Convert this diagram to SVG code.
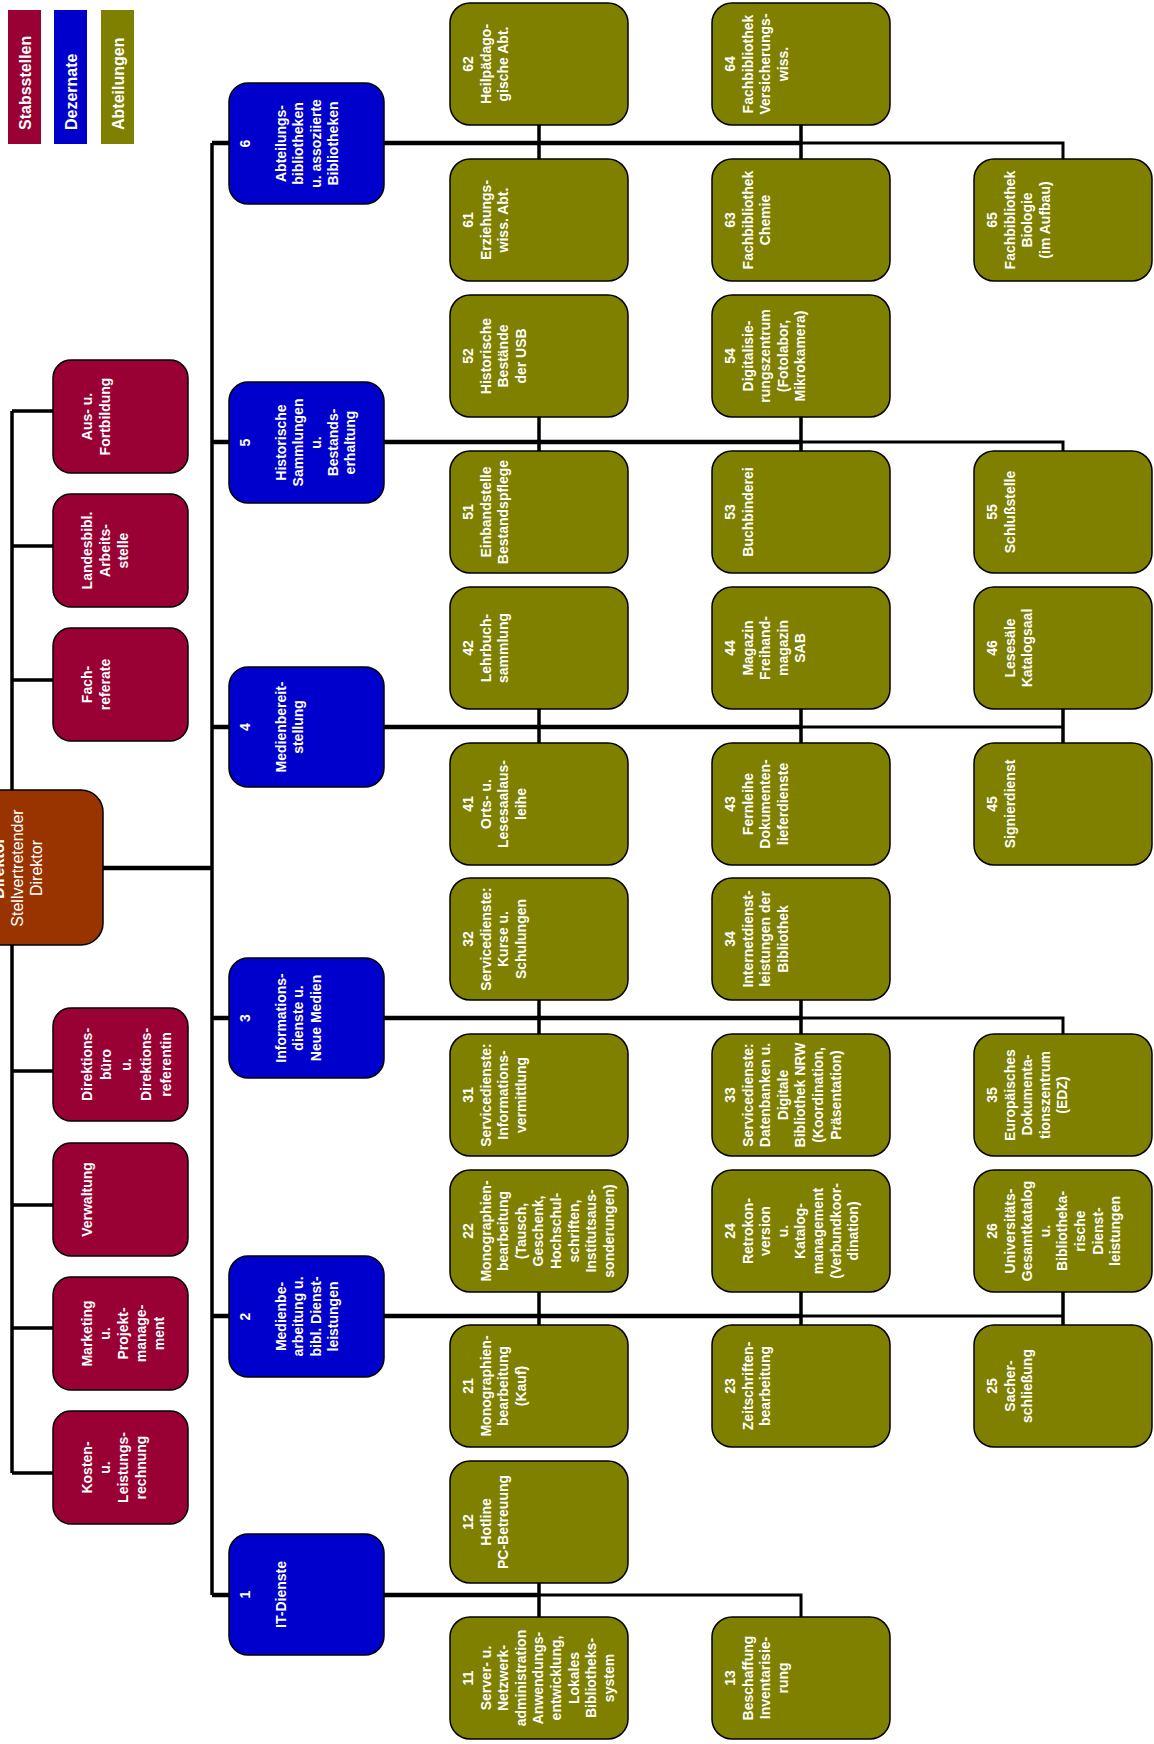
<svg xmlns="http://www.w3.org/2000/svg" width="1154" height="1744" viewBox="0 0 1154 1744">
<style>
.bg{fill:#fff}
.st{fill:#990033;stroke:#000;stroke-width:1.5}
.dz{fill:#0000CC;stroke:#000;stroke-width:1.5}
.ab{fill:#808000;stroke:#000;stroke-width:1.5}
.dr{fill:#993300;stroke:#000;stroke-width:1.5}
.t{font-family:"Liberation Sans",Arial,sans-serif;font-size:14px;font-weight:bold;fill:#fff;text-anchor:middle}
.lg{font-family:"Liberation Sans",Arial,sans-serif;font-size:16px;font-weight:bold;fill:#fff;text-anchor:start}
.dt{font-family:"Liberation Sans",Arial,sans-serif;font-size:16px;fill:#fff;text-anchor:middle}
.c{fill:none;stroke:#000;stroke-width:3.5}
.ct{fill:none;stroke:#000;stroke-width:4.5}
.cn{fill:none;stroke:#000;stroke-width:3}
</style>
<rect class="bg" x="0" y="0" width="1154" height="1744"/>
<g id="legend">
<rect x="8" y="10" width="33" height="134" fill="#990033"/>
<rect x="54" y="10" width="33" height="134" fill="#0000CC"/>
<rect x="101" y="10" width="33" height="134" fill="#808000"/>
<text class="lg" transform="translate(30.5,130) rotate(-90)">Stabsstellen</text>
<text class="lg" transform="translate(76.5,130) rotate(-90)">Dezernate</text>
<text class="lg" transform="translate(123.5,130) rotate(-90)">Abteilungen</text>
</g>
<g id="connectors">
<path class="c" d="M12,411 V1473"/>
<path class="c" d="M12,411 H53 M12,546 H53 M12,680 H53 M12,1071 H53 M12,1205 H53 M12,1328 H53 M12,1473 H53"/>
<path class="ct" d="M100,868 H212"/>
<path class="c" d="M212,143 V1595"/>
<path class="ct" d="M212,143 H801"/><path class="cn" d="M801,143 H1063 V159"/>
<path class="c" d="M539,125 V159 M801,125 V159"/>
<path class="ct" d="M212,442 H801"/><path class="cn" d="M801,442 H1063 V451"/>
<path class="c" d="M539,417 V451 M801,417 V451"/>
<path class="ct" d="M212,727 H801"/><path class="cn" d="M801,727 H1063"/>
<path class="c" d="M539,709 V743 M801,709 V743 M1063,709 V743"/>
<path class="ct" d="M212,1018 H801"/><path class="cn" d="M801,1018 H1063 V1034"/>
<path class="c" d="M539,1000 V1034 M801,1000 V1034"/>
<path class="ct" d="M212,1316 H801"/><path class="cn" d="M801,1316 H1063"/>
<path class="c" d="M539,1292 V1325 M801,1292 V1325 M1063,1292 V1325"/>
<path class="ct" d="M212,1595 H539"/><path class="cn" d="M539,1595 H801 V1617"/>
<path class="c" d="M539,1583 V1617"/>
</g>
<g id="director">
<rect class="dr" x="-40" y="790" width="143" height="155" rx="22"/>
<text class="dt" transform="translate(4,868) rotate(-90)"><tspan x="0" y="0" font-weight="bold">Direktor</tspan><tspan x="0" dy="19">Stellvertretender</tspan><tspan x="0" dy="19">Direktor</tspan></text>
</g>
<g id="s-aus"><rect class="st" x="53" y="360" width="135" height="113" rx="18"/>
<text class="t" transform="translate(92,416.5) rotate(-90)"><tspan x="0" y="0">Aus- u.</tspan><tspan x="0" dy="18">Fortbildung</tspan></text></g>
<g id="s-landes"><rect class="st" x="53" y="494" width="135" height="113" rx="18"/>
<text class="t" transform="translate(92,550.5) rotate(-90)"><tspan x="0" y="0">Landesbibl.</tspan><tspan x="0" dy="18">Arbeits-</tspan><tspan x="0" dy="18">stelle</tspan></text></g>
<g id="s-fach"><rect class="st" x="53" y="628" width="135" height="113" rx="18"/>
<text class="t" transform="translate(92,684.5) rotate(-90)"><tspan x="0" y="0">Fach-</tspan><tspan x="0" dy="18">referate</tspan></text></g>
<g id="s-direktion"><rect class="st" x="53" y="1008" width="135" height="113" rx="18"/>
<text class="t" transform="translate(92,1064.5) rotate(-90)"><tspan x="0" y="0">Direktions-</tspan><tspan x="0" dy="19">büro</tspan><tspan x="0" dy="20">u.</tspan><tspan x="0" dy="20">Direktions-</tspan><tspan x="0" dy="20">referentin</tspan></text></g>
<g id="s-verwaltung"><rect class="st" x="53" y="1143" width="135" height="113" rx="18"/>
<text class="t" transform="translate(92,1199.5) rotate(-90)"><tspan x="0" y="0">Verwaltung</tspan></text></g>
<g id="s-marketing"><rect class="st" x="53" y="1277" width="135" height="113" rx="18"/>
<text class="t" transform="translate(92,1333.5) rotate(-90)"><tspan x="0" y="0">Marketing</tspan><tspan x="0" dy="18">u.</tspan><tspan x="0" dy="18">Projekt-</tspan><tspan x="0" dy="18">manage-</tspan><tspan x="0" dy="18">ment</tspan></text></g>
<g id="s-kosten"><rect class="st" x="53" y="1411" width="135" height="113" rx="18"/>
<text class="t" transform="translate(92,1467.5) rotate(-90)"><tspan x="0" y="0">Kosten-</tspan><tspan x="0" dy="18">u.</tspan><tspan x="0" dy="18">Leistungs-</tspan><tspan x="0" dy="18">rechnung</tspan></text></g>
<g id="d6"><rect class="dz" x="229" y="83" width="155" height="121" rx="19"/>
<text class="t" transform="translate(250,143.5) rotate(-90)"><tspan x="0" y="0">6</tspan><tspan x="0" dy="36">Abteilungs-</tspan><tspan x="0" dy="17.3">bibliotheken</tspan><tspan x="0" dy="17.3">u. assoziierte</tspan><tspan x="0" dy="17.3">Bibliotheken</tspan></text></g>
<g id="d5"><rect class="dz" x="229" y="382" width="155" height="121" rx="19"/>
<text class="t" transform="translate(250,442.5) rotate(-90)"><tspan x="0" y="0">5</tspan><tspan x="0" dy="36">Historische</tspan><tspan x="0" dy="17.3">Sammlungen</tspan><tspan x="0" dy="17.3">u.</tspan><tspan x="0" dy="17.3">Bestands-</tspan><tspan x="0" dy="17.3">erhaltung</tspan></text></g>
<g id="d4"><rect class="dz" x="229" y="667" width="155" height="120" rx="19"/>
<text class="t" transform="translate(250,727) rotate(-90)"><tspan x="0" y="0">4</tspan><tspan x="0" dy="36">Medienbereit-</tspan><tspan x="0" dy="17.3">stellung</tspan></text></g>
<g id="d3"><rect class="dz" x="229" y="958" width="155" height="120" rx="19"/>
<text class="t" transform="translate(250,1018) rotate(-90)"><tspan x="0" y="0">3</tspan><tspan x="0" dy="36">Informations-</tspan><tspan x="0" dy="17.3">dienste u.</tspan><tspan x="0" dy="17.3">Neue Medien</tspan></text></g>
<g id="d2"><rect class="dz" x="229" y="1256" width="155" height="121" rx="19"/>
<text class="t" transform="translate(250,1316.5) rotate(-90)"><tspan x="0" y="0">2</tspan><tspan x="0" dy="36">Medienbe-</tspan><tspan x="0" dy="17.3">arbeitung u.</tspan><tspan x="0" dy="17.3">bibl. Dienst-</tspan><tspan x="0" dy="17.3">leistungen</tspan></text></g>
<g id="d1"><rect class="dz" x="229" y="1534" width="155" height="121" rx="19"/>
<text class="t" transform="translate(250,1594.5) rotate(-90)"><tspan x="0" y="0">1</tspan><tspan x="0" dy="36">IT-Dienste</tspan></text></g>
<g id="a62"><rect class="ab" x="450" y="3" width="178" height="122" rx="20"/>
<text class="t" transform="translate(473,64) rotate(-90)"><tspan x="0" y="0">62</tspan><tspan x="0" dy="17.6">Heilpädago-</tspan><tspan x="0" dy="17.6">gische Abt.</tspan></text></g>
<g id="a64"><rect class="ab" x="712" y="3" width="178" height="122" rx="20"/>
<text class="t" transform="translate(735,64) rotate(-90)"><tspan x="0" y="0">64</tspan><tspan x="0" dy="17.6">Fachbibliothek</tspan><tspan x="0" dy="17.6">Versicherungs-</tspan><tspan x="0" dy="17.6">wiss.</tspan></text></g>
<g id="a61"><rect class="ab" x="450" y="159" width="178" height="122" rx="20"/>
<text class="t" transform="translate(473,220) rotate(-90)"><tspan x="0" y="0">61</tspan><tspan x="0" dy="17.6">Erziehungs-</tspan><tspan x="0" dy="17.6">wiss. Abt.</tspan></text></g>
<g id="a63"><rect class="ab" x="712" y="159" width="178" height="122" rx="20"/>
<text class="t" transform="translate(735,220) rotate(-90)"><tspan x="0" y="0">63</tspan><tspan x="0" dy="17.6">Fachbibliothek</tspan><tspan x="0" dy="17.6">Chemie</tspan></text></g>
<g id="a65"><rect class="ab" x="974" y="159" width="178" height="122" rx="20"/>
<text class="t" transform="translate(997,220) rotate(-90)"><tspan x="0" y="0">65</tspan><tspan x="0" dy="17.6">Fachbibliothek</tspan><tspan x="0" dy="17.6">Biologie</tspan><tspan x="0" dy="17.6">(im Aufbau)</tspan></text></g>
<g id="a52"><rect class="ab" x="450" y="295" width="178" height="122" rx="20"/>
<text class="t" transform="translate(473,356) rotate(-90)"><tspan x="0" y="0">52</tspan><tspan x="0" dy="17.6">Historische</tspan><tspan x="0" dy="17.6">Bestände</tspan><tspan x="0" dy="17.6">der USB</tspan></text></g>
<g id="a54"><rect class="ab" x="712" y="295" width="178" height="122" rx="20"/>
<text class="t" transform="translate(735,356) rotate(-90)"><tspan x="0" y="0">54</tspan><tspan x="0" dy="17.6">Digitalisie-</tspan><tspan x="0" dy="17.6">rungszentrum</tspan><tspan x="0" dy="17.6">(Fotolabor,</tspan><tspan x="0" dy="17.6">Mikrokamera)</tspan></text></g>
<g id="a51"><rect class="ab" x="450" y="451" width="178" height="122" rx="20"/>
<text class="t" transform="translate(473,512) rotate(-90)"><tspan x="0" y="0">51</tspan><tspan x="0" dy="17.6">Einbandstelle</tspan><tspan x="0" dy="17.6">Bestandspflege</tspan></text></g>
<g id="a53"><rect class="ab" x="712" y="451" width="178" height="122" rx="20"/>
<text class="t" transform="translate(735,512) rotate(-90)"><tspan x="0" y="0">53</tspan><tspan x="0" dy="17.6">Buchbinderei</tspan></text></g>
<g id="a55"><rect class="ab" x="974" y="451" width="178" height="122" rx="20"/>
<text class="t" transform="translate(997,512) rotate(-90)"><tspan x="0" y="0">55</tspan><tspan x="0" dy="17.6">Schlußstelle</tspan></text></g>
<g id="a42"><rect class="ab" x="450" y="587" width="178" height="122" rx="20"/>
<text class="t" transform="translate(473,648) rotate(-90)"><tspan x="0" y="0">42</tspan><tspan x="0" dy="17.6">Lehrbuch-</tspan><tspan x="0" dy="17.6">sammlung</tspan></text></g>
<g id="a44"><rect class="ab" x="712" y="587" width="178" height="122" rx="20"/>
<text class="t" transform="translate(735,648) rotate(-90)"><tspan x="0" y="0">44</tspan><tspan x="0" dy="17.6">Magazin</tspan><tspan x="0" dy="17.6">Freihand-</tspan><tspan x="0" dy="17.6">magazin</tspan><tspan x="0" dy="17.6">SAB</tspan></text></g>
<g id="a46"><rect class="ab" x="974" y="587" width="178" height="122" rx="20"/>
<text class="t" transform="translate(997,648) rotate(-90)"><tspan x="0" y="0">46</tspan><tspan x="0" dy="17.6">Lesesäle</tspan><tspan x="0" dy="17.6">Katalogsaal</tspan></text></g>
<g id="a41"><rect class="ab" x="450" y="743" width="178" height="122" rx="20"/>
<text class="t" transform="translate(473,804) rotate(-90)"><tspan x="0" y="0">41</tspan><tspan x="0" dy="17.6">Orts- u.</tspan><tspan x="0" dy="17.6">Lesesaalaus-</tspan><tspan x="0" dy="17.6">leihe</tspan></text></g>
<g id="a43"><rect class="ab" x="712" y="743" width="178" height="122" rx="20"/>
<text class="t" transform="translate(735,804) rotate(-90)"><tspan x="0" y="0">43</tspan><tspan x="0" dy="17.6">Fernleihe</tspan><tspan x="0" dy="17.6">Dokumenten-</tspan><tspan x="0" dy="17.6">lieferdienste</tspan></text></g>
<g id="a45"><rect class="ab" x="974" y="743" width="178" height="122" rx="20"/>
<text class="t" transform="translate(997,804) rotate(-90)"><tspan x="0" y="0">45</tspan><tspan x="0" dy="17.6">Signierdienst</tspan></text></g>
<g id="a32"><rect class="ab" x="450" y="878" width="178" height="122" rx="20"/>
<text class="t" transform="translate(473,939) rotate(-90)"><tspan x="0" y="0">32</tspan><tspan x="0" dy="17.6">Servicedienste:</tspan><tspan x="0" dy="17.6">Kurse u.</tspan><tspan x="0" dy="17.6">Schulungen</tspan></text></g>
<g id="a34"><rect class="ab" x="712" y="878" width="178" height="122" rx="20"/>
<text class="t" transform="translate(735,939) rotate(-90)"><tspan x="0" y="0">34</tspan><tspan x="0" dy="17.6">Internetdienst-</tspan><tspan x="0" dy="17.6">leistungen der</tspan><tspan x="0" dy="17.6">Bibliothek</tspan></text></g>
<g id="a31"><rect class="ab" x="450" y="1034" width="178" height="122" rx="20"/>
<text class="t" transform="translate(473,1095) rotate(-90)"><tspan x="0" y="0">31</tspan><tspan x="0" dy="17.6">Servicedienste:</tspan><tspan x="0" dy="17.6">Informations-</tspan><tspan x="0" dy="17.6">vermittlung</tspan></text></g>
<g id="a33"><rect class="ab" x="712" y="1034" width="178" height="122" rx="20"/>
<text class="t" transform="translate(735,1095) rotate(-90)"><tspan x="0" y="0">33</tspan><tspan x="0" dy="17.6">Servicedienste:</tspan><tspan x="0" dy="17.6">Datenbanken u.</tspan><tspan x="0" dy="17.6">Digitale</tspan><tspan x="0" dy="17.6">Bibliothek NRW</tspan><tspan x="0" dy="17.6">(Koordination,</tspan><tspan x="0" dy="17.6">Präsentation)</tspan></text></g>
<g id="a35"><rect class="ab" x="974" y="1034" width="178" height="122" rx="20"/>
<text class="t" transform="translate(997,1095) rotate(-90)"><tspan x="0" y="0">35</tspan><tspan x="0" dy="17.6">Europäisches</tspan><tspan x="0" dy="17.6">Dokumenta-</tspan><tspan x="0" dy="17.6">tionszentrum</tspan><tspan x="0" dy="17.6">(EDZ)</tspan></text></g>
<g id="a22"><rect class="ab" x="450" y="1170" width="178" height="122" rx="20"/>
<text class="t" transform="translate(473,1231) rotate(-90)"><tspan x="0" y="0">22</tspan><tspan x="0" dy="17.6">Monographien-</tspan><tspan x="0" dy="17.6">bearbeitung</tspan><tspan x="0" dy="17.6">(Tausch,</tspan><tspan x="0" dy="17.6">Geschenk,</tspan><tspan x="0" dy="17.6">Hochschul-</tspan><tspan x="0" dy="17.6">schriften,</tspan><tspan x="0" dy="17.6">Institutsaus-</tspan><tspan x="0" dy="17.6">sonderungen)</tspan></text></g>
<g id="a24"><rect class="ab" x="712" y="1170" width="178" height="122" rx="20"/>
<text class="t" transform="translate(735,1231) rotate(-90)"><tspan x="0" y="0">24</tspan><tspan x="0" dy="17.6">Retrokon-</tspan><tspan x="0" dy="17.6">version</tspan><tspan x="0" dy="17.6">u.</tspan><tspan x="0" dy="17.6">Katalog-</tspan><tspan x="0" dy="17.6">management</tspan><tspan x="0" dy="17.6">(Verbundkoor-</tspan><tspan x="0" dy="17.6">dination)</tspan></text></g>
<g id="a26"><rect class="ab" x="974" y="1170" width="178" height="122" rx="20"/>
<text class="t" transform="translate(997,1231) rotate(-90)"><tspan x="0" y="0">26</tspan><tspan x="0" dy="17.6">Universitäts-</tspan><tspan x="0" dy="17.6">Gesamtkatalog</tspan><tspan x="0" dy="17.6">u.</tspan><tspan x="0" dy="17.6">Bibliotheka-</tspan><tspan x="0" dy="17.6">rische</tspan><tspan x="0" dy="17.6">Dienst-</tspan><tspan x="0" dy="17.6">leistungen</tspan></text></g>
<g id="a21"><rect class="ab" x="450" y="1325" width="178" height="122" rx="20"/>
<text class="t" transform="translate(473,1386) rotate(-90)"><tspan x="0" y="0">21</tspan><tspan x="0" dy="17.6">Monographien-</tspan><tspan x="0" dy="17.6">bearbeitung</tspan><tspan x="0" dy="17.6">(Kauf)</tspan></text></g>
<g id="a23"><rect class="ab" x="712" y="1325" width="178" height="122" rx="20"/>
<text class="t" transform="translate(735,1386) rotate(-90)"><tspan x="0" y="0">23</tspan><tspan x="0" dy="17.6">Zeitschriften-</tspan><tspan x="0" dy="17.6">bearbeitung</tspan></text></g>
<g id="a25"><rect class="ab" x="974" y="1325" width="178" height="122" rx="20"/>
<text class="t" transform="translate(997,1386) rotate(-90)"><tspan x="0" y="0">25</tspan><tspan x="0" dy="17.6">Sacher-</tspan><tspan x="0" dy="17.6">schließung</tspan></text></g>
<g id="a12"><rect class="ab" x="450" y="1461" width="178" height="122" rx="20"/>
<text class="t" transform="translate(473,1522) rotate(-90)"><tspan x="0" y="0">12</tspan><tspan x="0" dy="17.6">Hotline</tspan><tspan x="0" dy="17.6">PC-Betreuung</tspan></text></g>
<g id="a11"><rect class="ab" x="450" y="1617" width="178" height="122" rx="20"/>
<text class="t" transform="translate(473,1678) rotate(-90)"><tspan x="0" y="0">11</tspan><tspan x="0" dy="17.6">Server- u.</tspan><tspan x="0" dy="17.6">Netzwerk-</tspan><tspan x="0" dy="17.6">administration</tspan><tspan x="0" dy="17.6">Anwendungs-</tspan><tspan x="0" dy="17.6">entwicklung,</tspan><tspan x="0" dy="17.6">Lokales</tspan><tspan x="0" dy="17.6">Bibliotheks-</tspan><tspan x="0" dy="17.6">system</tspan></text></g>
<g id="a13"><rect class="ab" x="712" y="1617" width="178" height="122" rx="20"/>
<text class="t" transform="translate(735,1678) rotate(-90)"><tspan x="0" y="0">13</tspan><tspan x="0" dy="17.6">Beschaffung</tspan><tspan x="0" dy="17.6">Inventarisie-</tspan><tspan x="0" dy="17.6">rung</tspan></text></g>
</svg>
